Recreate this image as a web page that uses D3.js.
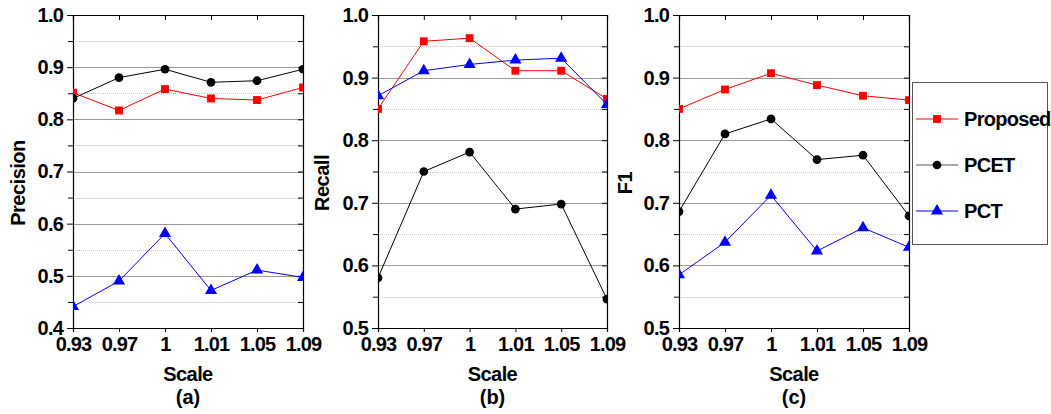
<!DOCTYPE html>
<html>
<head>
<meta charset="utf-8">
<script src="https://d3js.org/d3.v7.min.js"></script>
<style>
  body { margin: 0; background: #fff; }
  text { font-family: "Liberation Sans", Arial, sans-serif; font-weight: bold; fill: #000; }
</style>
</head>
<body>
<div id="chart"></div>
<script>
// x categories (scale factor)
var scales = ["0.93", "0.97", "1", "1.01", "1.05", "1.09"];

// (a) precision
var precisionProposed = [0.851, 0.817, 0.858, 0.840, 0.837, 0.861];
var precisionPCET = [0.840, 0.880, 0.896, 0.871, 0.874, 0.896];
var precisionPCT = [0.441, 0.490, 0.581, 0.472, 0.511, 0.497];

// (b) recall
var recallProposed = [0.850, 0.958, 0.963, 0.911, 0.911, 0.866];
var recallPCET = [0.580, 0.750, 0.781, 0.690, 0.698, 0.546];
var recallPCT = [0.871, 0.911, 0.921, 0.928, 0.931, 0.857];

// (c) F1
var f1Proposed = [0.850, 0.881, 0.907, 0.888, 0.871, 0.864];
var f1PCET = [0.686, 0.810, 0.834, 0.769, 0.776, 0.679];
var f1PCT = [0.585, 0.637, 0.712, 0.623, 0.660, 0.629];

var seriesNames = ["Proposed", "PCET", "PCT"];
var seriesColors = ["#ff0000", "#000000", "#0000ff"];
var seriesShapes = [d3.symbolSquare, d3.symbolCircle, d3.symbolTriangle];
var seriesSizes = [62, 60, 64];

var svgWidth = 1051;
var svgHeight = 414;

var svg = d3.select("#chart")
  .append("svg")
  .attr("width", svgWidth)
  .attr("height", svgHeight);

var panels = [
  { left: 73, right: 303, yMin: 0.4, yLabel: "Precision", titleX: 18, tag: "(a)",
    data: [precisionProposed, precisionPCET, precisionPCT] },
  { left: 378, right: 607, yMin: 0.5, yLabel: "Recall", titleX: 322, tag: "(b)",
    data: [recallProposed, recallPCET, recallPCT] },
  { left: 679, right: 909, yMin: 0.5, yLabel: "F1", titleX: 625, tag: "(c)",
    data: [f1Proposed, f1PCET, f1PCT] }
];

var plotTop = 15;
var plotBottom = 328;

panels.forEach(function(p, pi) {
  var x = d3.scalePoint()
    .domain(scales)
    .range([p.left, p.right]);

  var y = d3.scaleLinear()
    .domain([p.yMin, 1.0])
    .range([plotBottom, plotTop]);

  var majorTicks = d3.range(Math.round(p.yMin * 10), 11).map(d => d / 10);
  var minorTicks = majorTicks.slice(0, -1).map(d => d + 0.05);

  var g = svg.append("g");

  // minor grid (dotted)
  g.selectAll(".minor")
    .data(minorTicks)
    .enter()
    .append("line")
    .attr("x1", p.left)
    .attr("x2", p.right)
    .attr("y1", d => Math.round(y(d)) + 0.5)
    .attr("y2", d => Math.round(y(d)) + 0.5)
    .attr("stroke", "#c8c8c8")
    .attr("stroke-dasharray", "1,1");

  // major grid
  g.selectAll(".major")
    .data(majorTicks.slice(1, -1))
    .enter()
    .append("line")
    .attr("x1", p.left)
    .attr("x2", p.right)
    .attr("y1", d => Math.round(y(d)) + 0.5)
    .attr("y2", d => Math.round(y(d)) + 0.5)
    .attr("stroke", "#999");

  // axes
  var leftAxis = d3.axisLeft(y)
    .tickValues(majorTicks)
    .tickFormat(d3.format(".1f"))
    .tickSize(6)
    .tickPadding(4);

  var leftG = g.append("g")
    .attr("transform", `translate(${p.left}, 0)`)
    .call(leftAxis);
  leftG.selectAll("text")
    .style("font-size", "20px")
    .style("letter-spacing", "-0.8px");

  g.append("g")
    .attr("transform", `translate(${p.left}, 0)`)
    .call(d3.axisLeft(y).tickValues(minorTicks).tickSize(5).tickFormat(""))
    .call(s => s.select(".domain").remove());

  var bottomAxis = d3.axisBottom(x)
    .tickSize(4)
    .tickPadding(5);

  var bottomG = g.append("g")
    .attr("transform", `translate(0, ${plotBottom})`)
    .call(bottomAxis);
  bottomG.selectAll("text")
    .style("font-size", "20px")
    .style("letter-spacing", "-0.8px");

  // top frame, ticks pointing in
  g.append("g")
    .attr("transform", `translate(0, ${plotTop})`)
    .call(d3.axisBottom(x).tickSize(5).tickFormat(""));
  g.append("line")
    .attr("x1", p.left).attr("x2", p.right)
    .attr("y1", plotTop + 0.5).attr("y2", plotTop + 0.5)
    .attr("stroke", "#000");

  // right frame, ticks pointing in
  g.append("g")
    .attr("transform", `translate(${p.right}, 0)`)
    .call(d3.axisLeft(y).tickValues(majorTicks.concat(minorTicks)).tickSize(5).tickFormat(""));

  g.selectAll(".domain").attr("stroke", "#000").attr("stroke-width", 1.2);

  // clip for series
  var clipId = "clip" + pi;
  svg.append("clipPath")
    .attr("id", clipId)
    .append("rect")
    .attr("x", p.left)
    .attr("y", plotTop)
    .attr("width", p.right - p.left)
    .attr("height", plotBottom - plotTop);

  var sg = g.append("g").attr("clip-path", `url(#${clipId})`);

  p.data.forEach(function(values, si) {
    var line = d3.line()
      .x((d, i) => x(scales[i]))
      .y(d => y(d));

    sg.append("path")
      .datum(values)
      .attr("d", line)
      .attr("fill", "none")
      .attr("stroke", seriesColors[si])
      .attr("stroke-width", 1);

    sg.selectAll(".pt" + si)
      .data(values)
      .enter()
      .append("path")
      .attr("d", d3.symbol().type(seriesShapes[si]).size(seriesSizes[si]))
      .attr("transform", (d, i) => `translate(${x(scales[i])}, ${y(d)})`)
      .attr("fill", seriesColors[si]);
  });

  // axis titles
  g.append("text")
    .attr("transform", `translate(${p.titleX}, 183) rotate(-90)`)
    .attr("text-anchor", "middle")
    .attr("dy", "0.35em")
    .style("font-size", "20px")
    .style("letter-spacing", "-0.5px")
    .text(p.yLabel);

  var cx = (p.left + p.right) / 2;
  g.append("text")
    .attr("x", cx)
    .attr("y", 381)
    .attr("text-anchor", "middle")
    .style("font-size", "20px")
    .style("letter-spacing", "-0.6px")
    .text("Scale");

  g.append("text")
    .attr("x", cx)
    .attr("y", 404)
    .attr("text-anchor", "middle")
    .style("font-size", "20px")
    .text(p.tag);
});

// legend
var legend = svg.append("g");
legend.append("rect")
  .attr("x", 912.5)
  .attr("y", 82.5)
  .attr("width", 135)
  .attr("height", 162)
  .attr("fill", "#fff")
  .attr("stroke", "#555");

var legendY = d3.scalePoint()
  .domain(seriesNames)
  .range([119, 211]);

seriesNames.forEach(function(name, si) {
  var ly = legendY(name);
  legend.append("line")
    .attr("x1", 916).attr("x2", 958)
    .attr("y1", ly).attr("y2", ly)
    .attr("stroke", si === 1 ? "#555" : seriesColors[si])
    .attr("stroke-width", 1);
  legend.append("path")
    .attr("d", d3.symbol().type(seriesShapes[si]).size(seriesSizes[si]))
    .attr("transform", `translate(937, ${ly})`)
    .attr("fill", seriesColors[si]);
  legend.append("text")
    .attr("x", 964)
    .attr("y", ly)
    .attr("dy", "0.35em")
    .style("font-size", "20px")
    .style("letter-spacing", "-0.7px")
    .text(name);
});
</script>
</body>
</html>
